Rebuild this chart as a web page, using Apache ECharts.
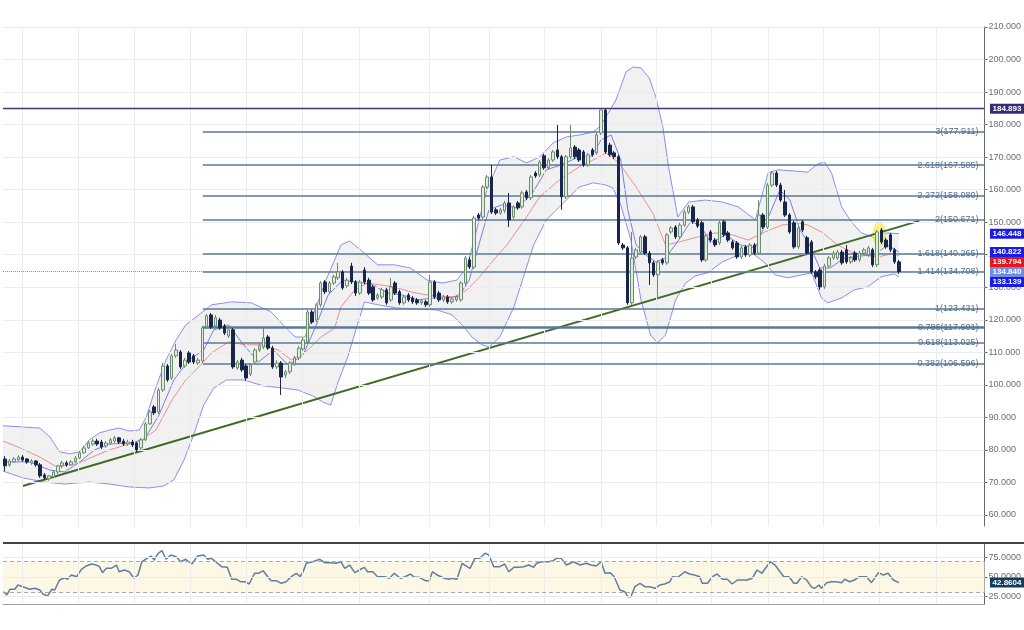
<!DOCTYPE html>
<html><head><meta charset="utf-8">
<script src="https://cdn.jsdelivr.net/npm/echarts@6/dist/echarts.min.js"></script>
<style>html,body{margin:0;padding:0;background:#fff}#c{width:1024px;height:630px}</style>
</head><body><div id="c"></div>
<script>
// ---------- DATA ----------
const opens = [77.2,75.4,76.3,76.9,77.8,77.2,76.0,76.6,75.4,72.3,
71.1,71.7,73.2,75.1,76.0,75.4,76.3,77.5,79.1,80.6,
81.8,82.7,82.4,81.2,82.1,82.7,83.7,82.7,81.8,82.4,
82.1,80.6,83.1,88.0,93.2,91.7,98.4,105.8,102.1,108.9,
110.1,105.8,109.8,108.9,106.7,107.3,117.8,121.5,118.1,119.9,
118.1,115.0,116.9,105.2,107.6,105.8,103.3,107.0,110.7,111.6,
114.7,111.3,105.5,106.7,103.0,104.0,106.4,108.3,111.0,113.2,
122.4,119.9,124.6,131.6,128.6,131.3,132.9,134.7,130.4,136.5,
131.6,128.2,135.3,132.2,130.1,126.7,127.0,129.2,126.1,131.3,
128.6,125.2,127.6,126.7,126.1,125.2,125.5,124.6,131.6,128.2,
126.1,127.0,125.5,126.1,126.1,131.3,138.4,136.2,152.2,151.6,
160.8,163.9,153.8,152.8,153.5,155.9,151.6,155.9,154.7,159.3,
157.5,165.1,164.5,170.4,166.7,169.1,172.2,170.1,157.8,170.1,
173.1,172.2,171.6,167.6,172.2,171.3,177.4,184.5,173.7,171.3,
170.1,143.0,142.1,125.2,139.3,140.8,145.5,140.5,137.5,133.8,
138.4,137.5,147.0,148.5,145.5,149.1,153.1,154.7,150.7,149.8,
138.4,147.0,144.5,143.6,150.1,146.7,143.9,143.6,139.3,142.4,
139.9,143.0,140.5,152.2,148.5,161.4,165.1,161.4,156.2,152.2,
149.8,142.4,150.1,145.2,143.9,134.7,135.3,130.1,136.5,139.0,
139.0,140.8,141.5,137.8,140.5,138.4,140.5,139.9,141.5,136.9,
147.6,144.5,146.1,141.5,137.8];
const closes = [75.1,76.6,77.2,77.8,76.9,76.3,76.6,75.4,72.0,71.4,
72.0,73.2,75.1,76.0,75.4,76.3,77.5,79.1,80.6,82.1,
82.7,81.8,80.9,82.1,83.1,83.7,82.4,81.8,82.4,81.5,
80.0,83.1,88.0,91.7,91.4,98.4,105.8,101.5,108.9,110.7,
105.5,107.6,107.0,107.0,107.6,117.5,121.2,117.8,120.6,117.5,
115.9,116.9,105.5,107.0,104.6,102.1,106.1,110.7,112.0,114.4,
111.3,105.5,106.7,102.4,104.0,106.7,108.3,111.3,113.8,122.4,
119.3,124.6,131.3,128.6,131.3,133.2,134.7,129.8,132.2,131.6,
128.2,131.6,131.6,128.2,126.1,127.6,129.2,125.2,130.1,128.2,
125.2,127.0,126.1,125.5,125.2,125.8,124.6,131.6,127.0,126.1,
127.0,125.5,126.4,127.0,131.3,139.0,136.2,151.3,151.3,160.8,
163.9,153.1,152.8,153.8,155.9,150.7,154.7,154.4,159.0,157.5,
163.9,164.2,168.5,166.7,169.1,171.6,170.1,157.8,170.1,172.8,
170.1,169.1,167.6,170.7,170.7,176.8,184.5,171.6,170.7,170.1,
143.6,142.1,125.2,139.0,141.5,145.5,140.5,137.5,133.8,137.8,
137.5,146.1,148.2,145.5,149.1,153.1,154.7,150.1,148.8,138.4,
145.8,144.5,143.0,149.8,146.1,144.5,142.1,139.3,142.1,139.9,
143.0,140.5,152.2,148.5,161.4,165.1,161.4,156.8,152.2,147.0,
142.4,148.2,147.6,140.5,134.7,133.2,130.1,136.5,139.0,140.5,
140.8,137.5,137.8,139.0,138.4,140.5,141.5,142.1,136.9,147.0,
143.9,142.4,141.5,137.8,134.84];
const lows = [73.5,74.8,76.0,76.6,76.3,75.7,75.4,74.8,71.4,70.8,
70.5,71.4,72.6,74.4,74.8,75.1,76.0,77.2,78.8,80.3,
81.2,81.2,80.3,80.6,81.5,82.1,81.8,81.2,81.2,80.9,
79.4,80.0,82.7,87.7,90.7,91.0,97.8,100.9,101.5,108.3,
104.9,105.2,106.4,106.4,106.1,106.7,117.2,117.2,117.5,116.9,
115.3,114.4,104.9,104.6,104.0,101.2,102.7,106.4,110.1,111.0,
110.7,104.9,104.9,96.9,102.1,103.3,105.8,107.6,110.4,112.6,
118.7,119.3,123.9,127.9,127.9,130.7,132.2,129.2,129.8,131.0,
127.3,127.6,131.0,127.6,125.5,126.1,126.4,124.6,125.5,127.6,
124.6,124.6,125.5,124.9,124.6,124.6,123.9,123.9,126.4,125.5,
125.5,124.9,124.9,125.5,125.5,130.7,135.6,135.6,150.7,151.0,
160.2,152.5,152.2,152.2,152.8,148.5,151.0,153.8,154.1,156.8,
156.8,163.6,163.9,166.1,166.1,168.5,169.4,153.8,157.1,169.4,
169.4,168.5,167.0,167.0,170.1,170.7,176.8,171.0,170.1,169.4,
143.0,141.5,124.6,124.6,138.7,140.2,139.9,130.7,133.2,127.0,
136.9,136.9,146.4,144.8,144.8,148.5,152.5,149.5,148.2,137.8,
137.8,143.9,142.4,143.0,145.5,143.9,141.5,138.7,138.7,139.3,
139.3,139.9,139.9,147.9,147.9,160.8,160.8,156.2,151.6,146.4,
141.8,141.8,147.0,139.9,134.1,132.5,129.2,129.5,135.9,138.4,
138.4,136.9,137.2,137.2,137.8,137.8,139.9,139.3,136.2,136.2,
143.3,141.8,140.8,137.2,134.1];
const highs = [78.1,77.2,77.8,78.4,78.4,77.5,77.2,76.9,76.0,72.9,
72.3,73.8,75.4,76.6,76.6,76.9,78.1,79.7,81.2,82.7,
83.4,83.4,83.1,82.7,83.7,84.3,84.0,83.4,83.1,83.1,
82.4,83.7,88.6,92.3,93.8,99.0,106.7,106.4,109.5,112.6,
110.7,108.3,110.4,109.5,108.3,118.1,121.8,122.1,121.5,120.6,
118.7,117.5,117.5,107.6,108.3,106.4,106.7,111.3,112.9,117.5,
115.3,112.0,107.6,107.3,104.6,107.3,108.9,112.0,114.7,123.0,
123.0,125.2,131.9,132.2,131.9,133.8,137.5,135.3,132.9,137.5,
132.2,132.2,136.2,132.9,130.7,128.2,129.8,129.8,132.9,131.9,
129.2,127.6,128.2,127.3,126.7,126.4,126.1,133.8,132.2,128.9,
127.6,127.6,127.0,127.6,131.9,139.6,139.3,151.9,152.8,161.4,
164.5,167.6,154.4,154.4,156.5,159.0,155.3,156.5,159.6,159.9,
164.5,165.7,169.1,171.0,169.7,172.2,179.9,170.7,170.7,179.9,
173.7,172.8,172.2,171.3,172.8,177.4,184.6,184.893,174.4,171.9,
170.7,143.6,142.7,147.0,142.1,146.1,146.1,141.2,138.1,138.4,
139.0,146.7,148.8,149.1,149.8,153.8,155.3,155.3,151.3,150.4,
146.4,147.6,145.2,150.4,150.7,147.3,144.5,144.2,142.7,143.0,
143.6,143.6,156.8,152.8,162.1,165.7,165.7,162.1,159.9,152.8,
150.4,148.8,150.7,145.8,144.5,135.3,135.9,137.2,139.6,141.2,
141.5,141.5,143.0,139.6,141.2,141.2,142.1,142.7,142.1,147.6,
148.2,145.2,146.7,142.1,138.4];

// Bollinger bands and fast average as [bar position, value]
const upperBand = [[-0.5,87.4],[3.4,87.1],[7.9,86.7],[10.2,84.0],[12.4,79.4],[14.7,78.8],[17.0,79.4],[19.2,83.1],[21.5,85.2],[23.8,86.1],[26.0,86.7],[28.3,85.8],[30.6,86.1],[32.2,90.1],[34.4,99.3],[36.7,107.6],[39.0,113.8],[41.2,118.4],[44.2,121.5],[47.1,124.6],[51.7,125.5],[56.2,125.2],[60.7,122.4],[63.9,117.8],[66.2,114.7],[68.4,114.7],[70.7,123.0],[73.2,132.2],[75.2,138.4],[76.6,143.0],[78.6,144.2],[81.1,141.5],[85.0,136.9],[88.8,136.9],[92.5,135.9],[96.3,132.2],[99.7,131.3],[103.1,132.2],[105.4,136.2],[107.0,144.5],[109.9,159.9],[112.9,169.1],[116.1,170.1],[119.0,168.2],[122.0,170.1],[125.1,174.4],[128.1,176.2],[131.0,176.8],[134.2,177.7],[135.6,179.3],[137.1,182.3],[139.4,187.6],[141.7,196.2],[143.3,197.7],[145.1,197.4],[147.0,194.3],[148.5,188.5],[150.1,179.3],[151.4,167.0],[153.5,151.6],[156.0,156.2],[159.8,156.8],[163.7,156.2],[167.3,154.7],[171.2,150.7],[174.1,165.1],[176.4,166.1],[180.2,165.7],[183.2,165.4],[185.4,167.9],[187.0,168.5],[188.6,165.1],[190.9,154.7],[193.1,150.1],[195.4,146.7],[198.4,145.2],[201.3,146.7],[204.0,146.448]];
const middleBand = [[-0.5,82.7],[3.4,80.6],[7.9,77.8],[11.7,74.8],[16.3,75.7],[19.9,77.8],[23.8,80.0],[29.0,82.1],[31.2,83.1],[34.4,86.1],[38.1,95.4],[41.2,101.5],[44.2,105.5],[47.1,109.8],[51.0,113.2],[54.8,112.3],[58.5,112.3],[62.3,110.7],[65.3,107.6],[69.1,110.7],[72.1,114.7],[75.2,117.5],[76.6,123.9],[79.8,129.2],[82.7,131.3],[88.8,130.1],[92.5,128.6],[96.3,127.6],[102.4,127.0],[105.4,129.2],[108.3,133.2],[111.5,138.4],[114.5,143.0],[119.0,151.6],[122.0,157.8],[126.5,163.0],[131.0,167.0],[135.6,170.1],[137.1,171.3],[140.1,168.2],[144.0,160.8],[147.8,152.8],[150.7,143.0],[153.7,143.9],[158.2,145.5],[162.1,146.7],[166.0,146.1],[169.6,144.5],[173.4,147.0],[177.3,149.1],[180.9,149.8],[183.2,149.1],[186.3,147.0],[190.0,143.0],[193.2,140.8],[196.1,139.9],[199.1,139.3],[202.2,140.2],[204.0,139.794]];
const lowerBand = [[-0.5,73.5],[4.0,71.4],[9.0,70.1],[13.6,69.5],[19.2,70.1],[23.8,69.5],[28.3,68.6],[32.8,68.3],[36.2,68.9],[38.5,70.8],[40.8,76.9],[43.0,84.6],[45.3,93.8],[47.6,99.0],[50.5,101.5],[54.4,101.5],[58.9,99.7],[63.4,99.0],[66.8,98.4],[70.2,96.6],[72.5,94.7],[74.3,93.8],[75.9,100.6],[78.2,108.6],[80.5,119.0],[82.0,125.5],[85.0,124.6],[89.5,123.6],[94.1,123.3],[98.6,123.0],[102.0,121.5],[104.3,118.4],[106.5,114.7],[108.8,112.3],[110.4,111.6],[112.9,114.7],[116.1,123.9],[119.0,136.2],[120.6,143.0],[123.5,150.7],[126.5,154.7],[131.0,160.8],[134.2,162.1],[137.1,161.4],[138.7,160.5],[140.5,155.3],[142.8,144.5],[145.1,126.1],[147.3,115.3],[148.9,112.9],[150.7,115.3],[153.0,126.1],[155.3,131.3],[157.5,133.5],[160.3,134.4],[163.7,137.8],[167.3,139.9],[170.5,140.5],[173.4,137.5],[175.7,133.8],[178.6,132.9],[181.8,133.8],[184.1,134.4],[186.3,126.7],[187.7,125.2],[190.9,126.7],[193.8,129.2],[196.8,130.1],[199.9,133.2],[202.9,134.1],[204.0,133.139]];
const fastLine = [[-0.5,76.3],[5.6,76.3],[10.2,73.8],[13.6,73.2],[17.0,76.3],[20.4,80.0],[23.8,81.8],[28.3,82.1],[31.7,83.1],[35.1,90.7],[38.5,101.5],[41.9,107.6],[45.3,110.7],[47.6,116.9],[51.0,118.4],[54.4,112.3],[57.8,107.0],[61.2,110.7],[64.6,106.1],[68.0,109.2],[71.0,118.4],[73.7,127.6],[77.0,132.2],[80.5,131.6],[83.9,130.7],[87.3,128.2],[90.7,127.6],[94.1,126.1],[97.5,126.7],[100.9,126.7],[103.6,127.3],[105.9,132.2],[108.1,143.0],[110.4,153.8],[113.3,155.3],[116.7,154.4],[120.1,158.4],[123.5,166.1],[126.9,167.6],[130.3,169.7],[133.7,170.1],[136.0,175.3],[138.3,176.8],[140.5,169.1],[142.1,153.8],[144.0,143.0],[146.2,139.9],[148.5,137.8],[150.7,139.0],[153.7,144.5],[156.4,150.1],[158.7,149.1],[161.0,143.6],[164.4,146.1],[167.8,143.0],[171.2,142.1],[173.4,149.1],[176.8,159.9],[179.1,156.8],[181.4,147.6],[183.6,143.0],[185.9,135.9],[188.2,135.9],[191.6,139.0],[195.0,139.6],[198.4,139.9],[201.3,143.0],[204.0,140.822]];

const rsi = [[-0.5,31.3],[0.4,27.2],[1.1,34.4],[2.2,34.4],[2.9,39.8],[4.0,37.7],[5.6,34.4],[6.8,35.7],[7.9,33.5],[8.6,28.4],[9.7,25.9],[10.6,34.4],[11.3,33.5],[12.4,46.2],[13.6,49.1],[14.2,47.1],[15.1,52.5],[16.3,50.4],[17.4,59.8],[18.5,64.0],[19.7,66.5],[20.8,65.2],[21.5,63.1],[22.2,55.5],[23.1,61.0],[24.2,61.0],[25.4,65.2],[26.0,56.7],[27.2,58.9],[28.3,56.7],[29.4,48.4],[30.3,52.5],[31.2,69.4],[32.4,73.7],[33.3,76.6],[34.0,71.6],[34.9,80.1],[35.8,83.4],[36.7,72.5],[37.8,77.9],[39.0,75.8],[40.1,69.4],[41.2,72.5],[42.6,66.5],[43.9,76.6],[45.3,77.9],[46.2,72.5],[47.1,73.7],[48.3,68.1],[49.4,63.1],[50.7,62.3],[51.7,47.1],[52.8,47.1],[53.7,44.0],[54.8,44.0],[55.7,41.1],[56.9,54.7],[57.8,54.7],[58.9,58.0],[59.6,52.5],[60.7,45.3],[61.9,45.3],[63.0,42.0],[64.1,44.0],[65.3,50.4],[66.4,54.7],[67.3,50.4],[68.0,56.7],[68.7,67.4],[70.2,69.4],[71.8,72.5],[73.0,68.1],[74.3,68.1],[75.5,67.4],[76.6,69.4],[77.5,61.0],[78.6,65.2],[79.8,55.5],[81.1,59.8],[82.0,62.3],[82.7,56.7],[83.9,56.7],[85.0,50.4],[86.6,50.4],[87.7,48.4],[88.8,54.7],[90.2,48.4],[91.3,50.4],[92.5,53.8],[93.4,49.6],[94.5,49.6],[95.9,45.3],[96.8,45.3],[97.5,56.7],[98.6,52.5],[100.2,48.4],[101.3,47.1],[102.0,48.4],[103.1,47.1],[104.3,67.4],[105.4,63.1],[106.1,61.0],[107.2,73.7],[108.3,73.7],[109.5,80.1],[110.4,77.9],[111.5,63.1],[112.9,63.1],[114.0,66.5],[114.9,56.7],[116.1,62.3],[117.2,62.3],[118.3,63.1],[119.5,65.2],[120.6,62.3],[121.3,67.4],[122.4,69.4],[124.0,69.4],[125.1,70.7],[125.8,73.7],[126.9,73.7],[128.1,65.2],[129.7,69.4],[131.2,65.2],[132.6,67.4],[133.7,65.2],[134.9,64.0],[136.0,69.4],[136.9,54.7],[138.1,55.5],[139.0,50.4],[139.4,52.5],[140.3,33.5],[141.4,31.3],[142.1,25.0],[142.8,25.0],[143.7,37.7],[144.9,42.0],[146.0,37.7],[147.1,37.7],[148.3,35.7],[149.4,39.8],[150.5,41.1],[151.7,44.0],[152.3,50.4],[153.5,49.6],[155.1,56.7],[156.2,53.8],[157.3,52.5],[158.5,50.4],[159.1,42.0],[160.3,42.0],[161.4,50.4],[162.5,53.8],[163.7,47.1],[164.8,47.1],[165.9,41.1],[167.1,46.2],[168.2,46.2],[169.3,46.2],[170.5,48.4],[171.6,58.9],[172.7,54.7],[174.6,69.4],[175.7,65.2],[177.7,50.4],[178.9,50.4],[180.0,42.0],[180.7,42.0],[181.8,50.4],[182.9,46.2],[184.1,36.9],[184.8,35.7],[185.7,39.8],[186.3,35.7],[187.5,42.8],[188.6,44.0],[189.7,44.0],[190.9,42.8],[191.6,47.1],[192.7,44.0],[193.8,46.2],[195.0,50.4],[196.6,50.4],[197.7,42.8],[199.3,55.5],[200.4,52.5],[201.5,54.7],[202.7,46.2],[204.0,42.8604]];

const yTicks = [60,70,80,90,100,110,120,130,140,150,160,170,180,190,200,210];
const rsiTicks = [25,50,75];
const rsiBands = [30,70];
const xGrid = [4.0,16.7,29.4,42.2,55.1,67.8,80.7,96.8,110.4,123.1,136.0,148.7,161.2,174.1,186.8,199.5,212.4];
const fibLabels = ['3','2.618','2.272','2','1.618','1.414','1','0.786','0.618','0.382'];
const fibValues = [177.911,167.505,158.080,150.671,140.265,134.708,123.431,117.601,113.025,106.596];
const fibStart = 45.1;
const resistance = 184.893;
const lastPrice = 134.840;
const trendLine = [[4.0,68.9],[208.6,150.4]];
const highlight = [[199.5,146.1]];
const tagValues = [146.448,140.822,139.794,134.840,133.139];
const rsiLast = 42.8604;

// ---------- CHART ----------
const X_MIN = -0.5, X_MAX = 223.5;
const FONT = '"Liberation Sans", Arial, sans-serif';
const chart = echarts.init(document.getElementById('c'), null, {renderer:'canvas'});
const candleData = opens.map((o,i)=>[i, o, closes[i], lows[i], highs[i]]);

const option = {
  animation:false,
  backgroundColor:'#ffffff',
  grid:[{left:3,right:34,top:27,height:499},{left:3,right:34,top:543,height:61}],
  xAxis:[
    {type:'value', gridIndex:0, min:X_MIN, max:X_MAX, show:false},
    {type:'value', gridIndex:1, min:X_MIN, max:X_MAX,
      axisLine:{show:true, onZero:false, lineStyle:{color:'#a0a0a0'}},
      axisTick:{show:false}, axisLabel:{show:false}, splitLine:{show:false}}
  ],
  yAxis:[
    {type:'value', gridIndex:0, position:'right', min:56.6, max:210,
      axisLine:{show:true, onZero:false, lineStyle:{color:'#666'}},
      axisTick:{show:true, length:3, customValues:yTicks, lineStyle:{color:'#666'}},
      axisLabel:{customValues:yTicks, formatter:v=>v.toFixed(3), color:'#6e6e6e', fontSize:9, margin:4, fontFamily:FONT},
      splitLine:{show:false}},
    {type:'value', gridIndex:1, position:'right', min:15.7, max:93.2,
      axisLine:{show:true, onZero:false, lineStyle:{color:'#666'}},
      axisTick:{show:true, length:3, customValues:rsiTicks, lineStyle:{color:'#666'}},
      axisLabel:{customValues:rsiTicks, formatter:v=>v.toFixed(4), color:'#6e6e6e', fontSize:9, margin:4, fontFamily:FONT},
      splitLine:{show:false}}
  ],
  series:[
    // grid lines (main)
    {type:'line', xAxisIndex:0, yAxisIndex:0, data:[], z:0, silent:true,
      markLine:{silent:true, symbol:'none', label:{show:false}, animation:false,
        lineStyle:{color:'#ececec', width:1, type:'solid'},
        data: xGrid.map(v=>({xAxis:v})).concat(yTicks.map(v=>({yAxis:v})))}},
    // bollinger fill
    {type:'custom', xAxisIndex:0, yAxisIndex:0, z:1, silent:true, data:[[0,100]],
      renderItem:(params, api)=>{
        const pts = upperBand.map(p=>api.coord(p)).concat(lowerBand.slice().reverse().map(p=>api.coord(p)));
        return {type:'polygon', shape:{points:pts}, style:{fill:'rgba(185,185,185,0.2)'}};
      }},
    // fib levels
    {type:'line', xAxisIndex:0, yAxisIndex:0, data:[], z:2, silent:true,
      markLine:{silent:true, symbol:'none', animation:false,
        lineStyle:{color:'#5a7897', width:1.5, type:'solid'},
        label:{show:true, position:'insideEnd', formatter:'{b}', color:'#4e6d8e', fontSize:9, fontFamily:FONT, distance:6},
        data: fibValues.map((v,k)=>[
          {coord:[fibStart, v], name: fibLabels[k]+'('+v.toFixed(3)+')',
            lineStyle: fibLabels[k]==='0.786' ? {width:2.5} : {}},
          {coord:[X_MAX, v]}])}},
    // resistance & last price
    {type:'line', xAxisIndex:0, yAxisIndex:0, data:[], z:2, silent:true,
      markLine:{silent:true, symbol:'none', animation:false, label:{show:false},
        data:[
          {yAxis:resistance, lineStyle:{color:'#43367a', width:1.3, type:'solid'}},
          {yAxis:lastPrice, lineStyle:{color:'#6f8fe6', width:1, type:'dotted'}}
        ]}},
    // bands
    {type:'line', name:'upper', xAxisIndex:0, yAxisIndex:0, data:upperBand, symbol:'none', z:3,
      lineStyle:{color:'#8d8df2', width:1}},
    {type:'line', name:'lower', xAxisIndex:0, yAxisIndex:0, data:lowerBand, symbol:'none', z:3,
      lineStyle:{color:'#8d8df2', width:1}},
    {type:'line', name:'middle', xAxisIndex:0, yAxisIndex:0, data:middleBand, symbol:'none', z:3,
      lineStyle:{color:'#f08e8e', width:1}},
    {type:'line', name:'fast', xAxisIndex:0, yAxisIndex:0, data:fastLine, symbol:'none', z:3,
      lineStyle:{color:'#7b7bf0', width:1}},
    // highlight
    {type:'scatter', xAxisIndex:0, yAxisIndex:0, data:highlight, symbol:'circle', symbolSize:[14,26], z:3, silent:true,
      itemStyle:{color:'rgba(246,232,70,0.85)'}},
    // trend line
    {type:'line', xAxisIndex:0, yAxisIndex:0, data:trendLine, symbol:'none', z:4,
      lineStyle:{color:'#3f6b24', width:2}},
    // candles
    {type:'candlestick', xAxisIndex:0, yAxisIndex:0, data:candleData, z:5, barWidth:3,
      encode:{x:0, y:[1,2,3,4]},
      itemStyle:{color:'#e2ebe2', color0:'#17264a', borderColor:'#6a8c6a', borderColor0:'#17264a', borderWidth:1}},
    // RSI band + grid
    {type:'line', xAxisIndex:1, yAxisIndex:1, data:[], z:1, silent:true,
      markArea:{silent:true, itemStyle:{color:'#fdf7e6'}, data:[[{yAxis:rsiBands[0]},{yAxis:rsiBands[1]}]]}},
    {type:'line', xAxisIndex:1, yAxisIndex:1, data:[], z:1, silent:true,
      markLine:{silent:true, symbol:'none', label:{show:false}, animation:false,
        lineStyle:{color:'#ececec', width:1, type:'solid'},
        data: xGrid.map(v=>({xAxis:v})).concat(rsiTicks.map(v=>({yAxis:v})))}},
    {type:'line', xAxisIndex:1, yAxisIndex:1, data:[], z:1, silent:true,
      markLine:{silent:true, symbol:'none', label:{show:false}, animation:false,
        lineStyle:{color:'#a8a8a8', width:1, type:[4,3]},
        data: rsiBands.map(v=>({yAxis:v}))}},
    {type:'line', xAxisIndex:1, yAxisIndex:1, data:rsi, symbol:'none', z:3, clip:false,
      lineStyle:{color:'#5f7f9f', width:1.5}}
  ]
};
chart.setOption(option);

// price tags on the right
const RIGHT = 1024 - 34;
const graphics = [];
function tag(y, text, bg){
  graphics.push({type:'rect', shape:{x:RIGHT, y:y-5, width:34, height:10}, style:{fill:bg}, z:100});
  graphics.push({type:'text', x:RIGHT+17, y:y, z:101,
    style:{text:text, fill:'#ffffff', font:'bold 8px '+FONT, align:'center', verticalAlign:'middle'}});
}
const tagColors = ['#1b1be8','#1b1be8','#e3161b','#6b8fe8','#1b1be8'];
const items = tagValues.map((v,k)=>({v, y:chart.convertToPixel({yAxisIndex:0}, v), bg:tagColors[k]}));
items.sort((a,b)=>a.y-b.y);
for (let k=1;k<items.length;k++){ if (items[k].y < items[k-1].y+10) items[k].y = items[k-1].y+10; }
items.forEach(it=>tag(it.y, it.v.toFixed(3), it.bg));
tag(chart.convertToPixel({yAxisIndex:0}, resistance), resistance.toFixed(3), '#3b2a78');
tag(chart.convertToPixel({yAxisIndex:1}, rsiLast), rsiLast.toFixed(4), '#173a60');
const rsiTop = chart.convertToPixel({yAxisIndex:1}, 93.2);
graphics.push({type:'line', shape:{x1:3, y1:rsiTop, x2:1024, y2:rsiTop}, style:{stroke:'#444', lineWidth:2}, z:50});
chart.setOption({graphic:graphics});
</script>
</body></html>
